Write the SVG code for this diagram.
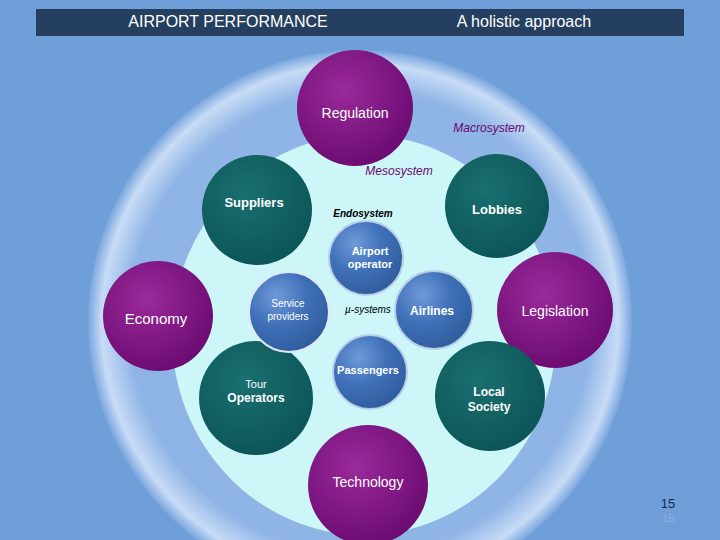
<svg xmlns="http://www.w3.org/2000/svg" width="720" height="540" viewBox="0 0 720 540">
<defs>
<radialGradient id="pu" cx="0.4" cy="0.35" r="0.7"><stop offset="0" stop-color="#9a2a9a"/><stop offset="1" stop-color="#6a0a70"/></radialGradient>
<radialGradient id="te" cx="0.4" cy="0.35" r="0.7"><stop offset="0" stop-color="#1a6f70"/><stop offset="1" stop-color="#0b5457"/></radialGradient>
<radialGradient id="bl" cx="0.35" cy="0.3" r="0.75"><stop offset="0" stop-color="#6f9ad8"/><stop offset="0.5" stop-color="#3f70b8"/><stop offset="1" stop-color="#2f5c9c"/></radialGradient>
<radialGradient id="ring" cx="0.5" cy="0.5" r="0.5"><stop offset="0.85" stop-color="#8fb4e6"/><stop offset="0.95" stop-color="#c8dcf6"/><stop offset="1" stop-color="#7aa6de"/></radialGradient>
</defs>
<style>
.t{font-family:"Liberation Sans",Arial,sans-serif;fill:#fff;text-anchor:middle}
.k{font-family:"Liberation Sans",Arial,sans-serif;fill:#000;text-anchor:middle}
.b{font-weight:bold}
</style>
<rect width="720" height="540" fill="#6f9fd8"/>
<circle cx="360" cy="322" r="272" fill="url(#ring)"/>
<ellipse cx="364" cy="335" rx="192" ry="200" fill="#ccf6f8"/>
<rect x="36" y="9" width="648" height="27" fill="#243f60"/>
<text class="t" x="228" y="27" font-size="16">AIRPORT PERFORMANCE</text>
<text class="t" x="524" y="27" font-size="16">A holistic approach</text>
<text class="k" x="489" y="132" font-size="12" font-style="italic" style="fill:#6a0a70">Macrosystem</text>
<text class="k" x="399" y="175" font-size="12" font-style="italic" style="fill:#6a0a70">Mesosystem</text>
<text class="k b" x="363" y="217" font-size="10" font-style="italic">Endosystem</text>
<text class="k" x="368" y="313" font-size="10" font-style="italic">µ-systems</text>
<g id="connectors"/>
<g id="regulation"><circle cx="355" cy="108" r="58" fill="url(#pu)"/><text class="t" x="355" y="118" font-size="14">Regulation</text></g>
<g id="suppliers"><circle cx="257" cy="210" r="55" fill="url(#te)"/><text class="t b" x="254" y="207" font-size="13">Suppliers</text></g>
<g id="lobbies"><circle cx="497" cy="206" r="52" fill="url(#te)"/><text class="t b" x="497" y="214" font-size="13">Lobbies</text></g>
<g id="economy"><circle cx="158" cy="316" r="55" fill="url(#pu)"/><text class="t" x="156" y="324" font-size="15">Economy</text></g>
<g id="legislation"><circle cx="555" cy="310" r="58" fill="url(#pu)"/><text class="t" x="555" y="316" font-size="14">Legislation</text></g>
<g id="tour"><circle cx="256" cy="398" r="57" fill="url(#te)"/><text class="t" x="256" y="388" font-size="11">Tour</text><text class="t b" x="256" y="402" font-size="12">Operators</text></g>
<g id="local"><circle cx="490" cy="396" r="55" fill="url(#te)"/><text class="t b" x="489" y="396" font-size="12">Local</text><text class="t b" x="489" y="411" font-size="12">Society</text></g>
<g id="technology"><circle cx="368" cy="485" r="60" fill="url(#pu)"/><text class="t" x="368" y="487" font-size="14">Technology</text></g>
<g id="airport"><circle cx="366" cy="258" r="37" stroke="#b8cde8" stroke-width="2" fill="url(#bl)"/><text class="t b" x="370" y="255" font-size="11">Airport</text><text class="t b" x="370" y="268" font-size="11">operator</text></g>
<g id="service"><circle cx="289" cy="312" r="40" stroke="#dfe8f4" stroke-width="2" fill="url(#bl)"/><text class="t" x="288" y="307" font-size="10">Service</text><text class="t" x="288" y="320" font-size="10">providers</text></g>
<g id="airlines"><circle cx="434" cy="310" r="39" stroke="#b8cde8" stroke-width="2" fill="url(#bl)"/><text class="t b" x="432" y="315" font-size="12">Airlines</text></g>
<g id="passengers"><circle cx="370" cy="372" r="37" stroke="#b8cde8" stroke-width="2" fill="url(#bl)"/><text class="t b" x="368" y="374" font-size="11">Passengers</text></g>
<text x="668" y="508" font-size="13" font-family="Liberation Sans,Arial,sans-serif" fill="#1a2a50" text-anchor="middle">15</text>
<text x="668" y="522" font-size="11" font-family="Liberation Sans,Arial,sans-serif" fill="#8fb0e0" text-anchor="middle">15</text>
</svg>
